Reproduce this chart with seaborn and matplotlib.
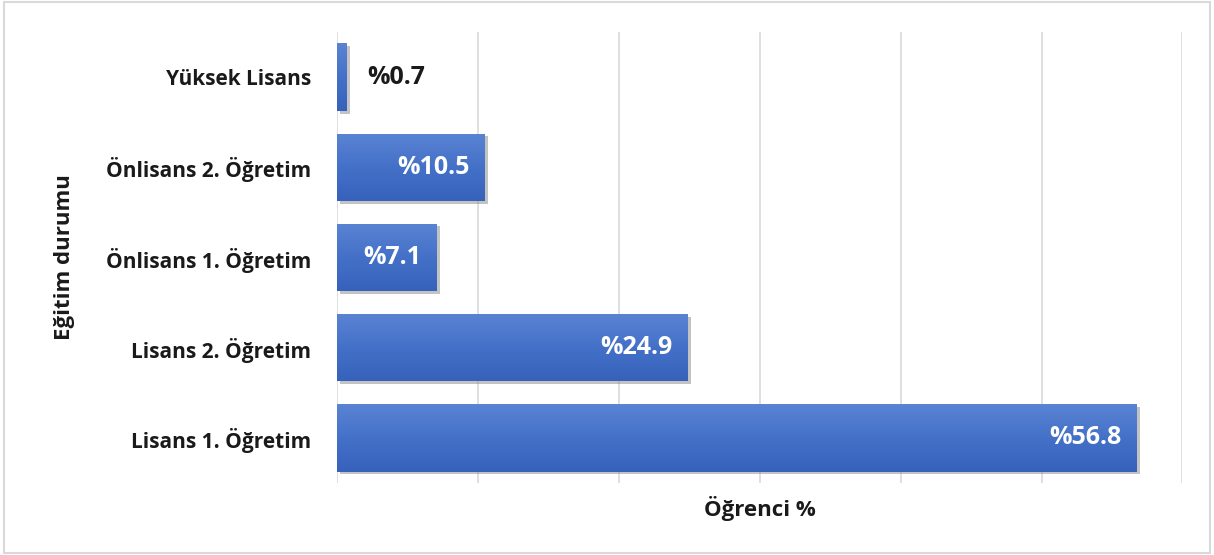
import numpy as np
import pandas as pd
import matplotlib.pyplot as plt
import matplotlib.patheffects as pe
from matplotlib.colors import LinearSegmentedColormap
import seaborn as sns

# Data
categories = ["Yüksek Lisans", "Önlisans 2. Öğretim", "Önlisans 1. Öğretim",
              "Lisans 2. Öğretim", "Lisans 1. Öğretim"]
values = [0.7, 10.5, 7.1, 24.9, 56.8]

df = pd.DataFrame({"Eğitim durumu": categories, "Öğrenci %": values})

sns.set_theme(style="white")
plt.rcParams["font.family"] = ["Open Sans", "DejaVu Sans"]

fig = plt.figure(figsize=(12.14, 5.55), dpi=100)
ax = fig.add_axes([0.278, 0.130, 0.696, 0.812])

sns.barplot(data=df, y="Eğitim durumu", x="Öğrenci %", orient="h",
            color="#4472C4", saturation=1, width=0.75, ax=ax, zorder=3)

# gradient fill + soft shadow on bars
grad = LinearSegmentedColormap.from_list("bar", ["#5A83D3", "#4471C8", "#3762BC"])
for bar in ax.patches:
    bar.set_edgecolor("none")
    bar.set_path_effects([pe.SimplePatchShadow(offset=(2, -2), shadow_rgbFace="#888888", alpha=0.5),
                          pe.Normal()])
    x0, y0 = bar.get_x(), bar.get_y()
    w, h = bar.get_width(), bar.get_height()
    im = ax.imshow(np.linspace(0, 1, 64).reshape(-1, 1), cmap=grad, aspect="auto",
                   extent=(x0, x0 + w, y0 + h, y0), origin="upper", zorder=3.5)
    im.set_clip_path(bar)

# value labels
for i, val in enumerate(values):
    if val < 3:
        ax.annotate(f"%{val}", (val, i), xytext=(14, 0), textcoords="offset points",
                    ha="left", va="center", color="#1a1a1a", fontsize=18, fontweight="bold",
                    zorder=5)
    else:
        ax.annotate(f"%{val}", (val, i), xytext=(-11.5, 0), textcoords="offset points",
                    ha="right", va="center", color="white", fontsize=18, fontweight="bold",
                    zorder=5)

ax.set_xlim(0, 60)
ax.set_ylim(4.5, -0.5)
ax.set_xticks(range(0, 61, 10))
ax.set_xticklabels([])
ax.tick_params(axis="both", length=0)
ax.xaxis.grid(True, color="#d9d9d9", linewidth=1.2, zorder=0)
ax.set_axisbelow(True)
for s in ax.spines.values():
    s.set_visible(False)

ax.set_yticks(range(len(categories)))
ax.set_yticklabels(categories, fontsize=15, fontweight="bold", color="#1a1a1a")
ax.tick_params(axis="y", pad=19)

ax.set_xlabel("Öğrenci %", fontsize=16, fontweight="bold", color="#1a1a1a", labelpad=6)
ax.set_ylabel("Eğitim durumu", fontsize=16, fontweight="bold", color="#1a1a1a")
ax.yaxis.set_label_coords(-0.311, 0.5)

# figure border
fig.patches.append(plt.Rectangle((0.003, 0.004), 0.994, 0.992, transform=fig.transFigure,
                                 fill=False, edgecolor="#d9d9d9", linewidth=1.5))

plt.savefig("out.png", dpi=100)
